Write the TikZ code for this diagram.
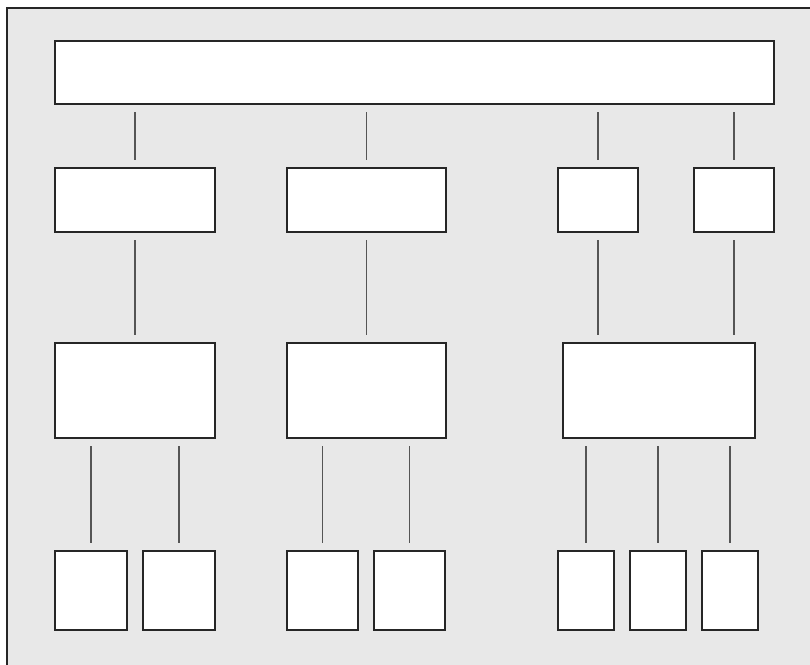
\documentclass[tikz,border=0pt]{standalone}
\usepackage{tikz}
\usetikzlibrary{positioning}

\definecolor{panelgray}{HTML}{E8E8E8}
\definecolor{linkgray}{HTML}{555555}

\begin{document}
\begin{tikzpicture}[
  x=0.5pt, y=-0.5pt,
  node distance = 8pt,
  box/.style = {draw=black!85, fill=white, line width=0.6pt, inner sep=0pt, outer sep=0pt},
  link/.style = {draw=linkgray, line width=0.6pt, shorten <=4pt, shorten >=4pt}
]
  \useasboundingbox (0,0) rectangle (810,665);
  \fill[panelgray] (7,8) rectangle (812,667);
  \draw[black!85, line width=0.6pt] (7,667) -- (7,8) -- (812,8);

  % top level
  \node[box, minimum width=359.5pt, minimum height=31.5pt] (top) at (414.5,72.5) {};

  % second level
  \node[box, minimum width=80pt,   minimum height=32pt] (a1) at (135,200)   {};
  \node[box, minimum width=79.5pt, minimum height=32pt] (a2) at (366.5,200) {};
  \node[box, minimum width=40pt,   minimum height=32pt] (a3) at (598,200)   {};
  \node[box, minimum width=40pt,   minimum height=32pt] (a4) at (734,200)   {};

  % third level
  \node[box, minimum width=80pt,   minimum height=47.5pt] (b1) at (135,390.5)   {};
  \node[box, minimum width=79.5pt, minimum height=47.5pt] (b2) at (366.5,390.5) {};
  \node[box, minimum width=96pt,   minimum height=47.5pt] (b3) at (659,390.5)   {};

  % leaves
  \node[box, minimum width=36pt,   minimum height=39.5pt] (c1) at (91,590.5)    {};
  \node[box, minimum width=36pt,   minimum height=39.5pt, right=of c1] (c2) {};
  \node[box, minimum width=35.5pt, minimum height=39.5pt] (c3) at (322.5,590.5) {};
  \node[box, minimum width=35.5pt, minimum height=39.5pt, right=of c3] (c4) {};
  \node[box, minimum width=28pt,   minimum height=39.5pt] (c5) at (586,590.5)   {};
  \node[box, minimum width=28pt,   minimum height=39.5pt, right=of c5] (c6) {};
  \node[box, minimum width=28pt,   minimum height=39.5pt, right=of c6] (c7) {};

  \foreach \a in {a1,a2,a3,a4}
    \draw[link] (\a.north |- top.south) -- (\a.north);
  \foreach \a/\b in {a1/b1,a2/b2,a3/b3,a4/b3}
    \draw[link] (\a.south) -- (\a.south |- \b.north);
  \foreach \b/\c in {b1/c1,b1/c2,b2/c3,b2/c4,b3/c5,b3/c6,b3/c7}
    \draw[link] (\c.north |- \b.south) -- (\c.north);
\end{tikzpicture}
\end{document}
